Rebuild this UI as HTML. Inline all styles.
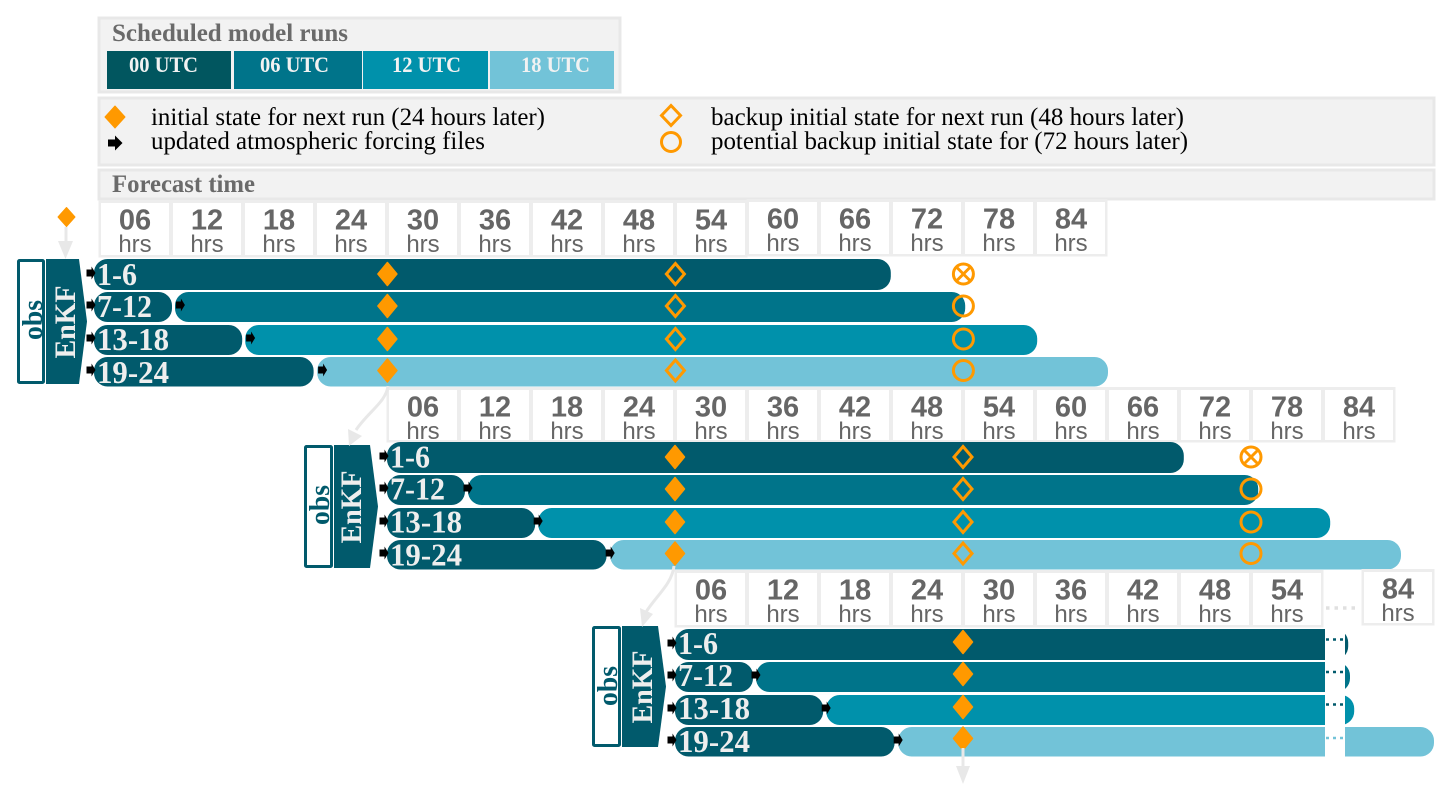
<!DOCTYPE html>
<html lang="en">
<head>
<meta charset="utf-8">
<title>Scheduled model runs</title>
<style>
html,body{margin:0;padding:0;background:#fff;}
svg{display:block;}
.serif{font-family:"Liberation Serif",serif;}
.sans{font-family:"Liberation Sans",sans-serif;}
</style>
</head>
<body>
<svg id="chart" xmlns="http://www.w3.org/2000/svg" width="1452" height="802" viewBox="0 0 1452 802">
  <rect width="1452" height="802" fill="#fff"/>

  <g>
    <rect x="99" y="18" width="521" height="74" fill="#f2f2f2" stroke="#e8e8e8" stroke-width="3"/>
    <text class="serif" x="112" y="41" font-size="25" font-weight="700" fill="#6a6a6a" textLength="236" lengthAdjust="spacingAndGlyphs">Scheduled model runs</text>
    <rect x="107" y="51" width="124" height="38" fill="#01565f"/>
    <rect x="234" y="51" width="128" height="38" fill="#00748a"/>
    <rect x="363" y="51" width="125" height="38" fill="#0091ab"/>
    <rect x="490" y="51" width="124" height="38" fill="#72c3d8"/>
    <g class="serif" font-size="22" font-weight="700" fill="#f2f2f2">
      <text x="129" y="72" textLength="69" lengthAdjust="spacingAndGlyphs">00 UTC</text>
      <text x="260" y="72" textLength="69" lengthAdjust="spacingAndGlyphs">06 UTC</text>
      <text x="392" y="72" textLength="69" lengthAdjust="spacingAndGlyphs">12 UTC</text>
      <text x="521" y="72" textLength="69" lengthAdjust="spacingAndGlyphs">18 UTC</text>
    </g>
  </g>

  <g>
    <rect x="99" y="98" width="1335" height="67" fill="#f2f2f2" stroke="#e8e8e8" stroke-width="3"/>
    <polygon points="115,106 125,117 115,128 105,117" fill="#ff9900" stroke="#ff9900" stroke-linejoin="round"/>
    <polygon points="108,139.5 115,139.5 115,135.5 122.5,143 115,150.5 115,146.5 108,146.5" fill="#000"/>
    <polygon points="671,105.5 680.5,115.5 671,125.5 661.5,115.5" fill="none" stroke="#ff9900" stroke-width="3"/>
    <circle cx="671" cy="142" r="9.5" fill="none" stroke="#ff9900" stroke-width="3"/>
    <g class="serif" font-size="25" fill="#000">
      <text x="151" y="125" textLength="394" lengthAdjust="spacingAndGlyphs">initial state for next run (24 hours later)</text>
      <text x="151" y="149" textLength="334" lengthAdjust="spacingAndGlyphs">updated atmospheric forcing files</text>
      <text x="711" y="125" textLength="473" lengthAdjust="spacingAndGlyphs">backup initial state for next run (48 hours later)</text>
      <text x="711" y="149" textLength="477" lengthAdjust="spacingAndGlyphs">potential backup initial state for (72 hours later)</text>
    </g>
  </g>

  <g>
    <rect x="99" y="170" width="1335" height="29" fill="#f2f2f2" stroke="#e8e8e8" stroke-width="3"/>
    <text class="serif" x="112" y="192" font-size="25" font-weight="700" fill="#6a6a6a" textLength="143" lengthAdjust="spacingAndGlyphs">Forecast time</text>
  </g>

  <g id="cycles"></g>

  <g fill="#e8e8e8" stroke="none">
    <polygon points="66.5,207.5 75,217 66.5,226.5 58,217" fill="#ff9900" stroke="#ff9900" stroke-linejoin="round"/>
    <path d="M66,227 V242" fill="none" stroke="#e8e8e8" stroke-width="3"/>
    <polygon points="58,241 73,241 65.5,259"/>
    <path d="M388,386 C386,402 368,412 356,430" fill="none" stroke="#e8e8e8" stroke-width="3"/>
    <polygon points="348,429 362,436 349,446"/>
    <path d="M674,566 C672,584 656,596 646,612" fill="none" stroke="#e8e8e8" stroke-width="3"/>
    <polygon points="640,608 653,614 642,627"/>
    <path d="M963,748 V768" fill="none" stroke="#e8e8e8" stroke-width="3"/>
    <polygon points="956,766 970,766 963,784"/>
  </g>
</svg>

<script>
const forecastLabels = ['06','12','18','24','30','36','42','48','54','60','66','72','78','84'];
const truncatedLabels = ['06','12','18','24','30','36','42','48','54'];
const lastLabel = '84';
const hourUnit = 'hrs';
const rowLabels = ['1-6','7-12','13-18','19-24'];
const firstSegmentEnd = [66.4, 6.5, 12.35, 18.3];
const secondSegmentStart = [null, 6.75, 12.6, 18.6];
const secondSegmentEnd = [null, 72.6, 78.6, 84.5];
const truncatedFirstSegmentEnd = [56.1, 6.5, 12.35, 18.3];
const truncatedSecondSegmentEnd = [null, 56.25, 56.6, 63.25];
const initialStateHour = 24;
const backupStateHour = 48;
const potentialStateHour = 72;

const NS = 'http://www.w3.org/2000/svg';
const PX_PER_HOUR = 12;
const runColors = ['#015a6c', '#00748a', '#0091ab', '#72c3d8'];
const ORANGE = '#ff9900';
const root = document.getElementById('cycles');

function make(tag, parent, attrs, text) {
  const el = document.createElementNS(NS, tag);
  for (const k in attrs) el.setAttribute(k, attrs[k]);
  if (text !== undefined) el.textContent = text;
  parent.appendChild(el);
  return el;
}

function xAxis(origin) {
  return function (hour) { return origin + hour * PX_PER_HOUR; };
}

function rowTop(layout, i) { return layout.top + [0, 33, 66, 98][i]; }
function rowHeight(i) { return [31, 30, 30, 29.5][i]; }
function markerY(layout, i) { return layout.markerTop + [0, 32, 65, 96.5][i]; }

function drawCell(g, label, cx, top, bottom) {
  const bg = make('rect', g, {x: cx - 36.5, y: top - 3, width: 73, height: bottom - top + 5.5, fill: '#ededed'});
  
  
  const cell = make('rect', g, {x: cx - 34, y: top, width: 68, height: bottom - top, fill: '#fff'});
  
  
  const hour = make('text', g, {x: cx, y: top + 26.5, 'text-anchor': 'middle', 'font-size': 29, 'font-weight': 700, fill: '#666', class: 'sans'}, label);
  
  
  const unit = make('text', g, {x: cx, y: top + 49, 'text-anchor': 'middle', 'font-size': 24, fill: '#666', class: 'sans'}, hourUnit);
  
  
}

function drawBar(g, x0, x1, y, h, fill) {
  const bar = make('rect', g, {x: x0, y: y, width: x1 - x0, height: h, rx: 13.5, ry: 13.5, fill: fill});
  
  
}

function drawForcingArrow(g, cx, cy) {
  const arrow = make('polygon', g, {
    points: [[cx - 4.5, cy - 3.5], [cx + 0.5, cy - 3.5], [cx + 0.5, cy - 6.5], [cx + 4.5, cy], [cx + 0.5, cy + 6.5], [cx + 0.5, cy + 3.5], [cx - 4.5, cy + 3.5]].join(' '),
    fill: '#000'
  });
  
  
}

function drawDiamond(g, cx, cy, filled) {
  const hw = filled ? 9.5 : 9;
  const hh = filled ? 11.5 : 10.5;
  const d = make('polygon', g, {
    points: [[cx, cy - hh], [cx + hw, cy], [cx, cy + hh], [cx - hw, cy]].join(' '),
    fill: filled ? ORANGE : 'none',
    stroke: ORANGE,
    'stroke-width': filled ? 1.5 : 3,
    'stroke-linejoin': filled ? 'round' : 'miter'
  });
  
  
}

function drawCircle(g, cx, cy, crossed) {
  const c = make('circle', g, {cx: cx, cy: cy, r: 10, fill: 'none', stroke: ORANGE, 'stroke-width': 3});
  
  
  if (crossed) {
    const k = 6.5;
    const x = make('path', g, {d: `M${cx - k},${cy - k}L${cx + k},${cy + k}M${cx + k},${cy - k}L${cx - k},${cy + k}`, stroke: ORANGE, 'stroke-width': 3, fill: 'none'});
    
    
  }
}

function drawAssimilation(g, a) {
  const obs = make('rect', g, {x: a.obsX + 1.5, y: a.y0 + 1.5, width: a.obsW - 3, height: a.y1 - a.y0 - 3, fill: '#fff', stroke: runColors[0], 'stroke-width': 3, rx: 1});
  
  
  const cy = (a.y0 + a.y1) / 2;
  const obsText = make('text', g, {transform: `translate(${a.obsBase},${a.obsC}) rotate(-90)`, 'text-anchor': 'middle', 'font-size': 29, 'font-weight': 700, fill: runColors[0], class: 'serif', textLength: 40, lengthAdjust: 'spacingAndGlyphs'}, 'obs');
  
  
  const enkf = make('polygon', g, {points: [[a.kfX, a.y0], [a.kfX1, a.y0], [a.kfTip, cy], [a.kfX1, a.y1], [a.kfX, a.y1]].join(' '), fill: runColors[0]});
  
  
  const enkfText = make('text', g, {transform: `translate(${a.kfBase},${a.kfC}) rotate(-90)`, 'text-anchor': 'middle', 'font-size': 30, 'font-weight': 700, fill: '#eee', class: 'serif', textLength: 73, lengthAdjust: 'spacingAndGlyphs'}, 'EnKF');
  
  
}

const cycleLayouts = [
  {bars: 94, marks: 99.4, top: 259, markerTop: 274, labelLift: 0, cellTop: 203, cellBottom: 255, cellCenter: 135, full: true, hollow: true,
   assim: {obsX: 17, obsW: 28, y0: 259, y1: 384, kfX: 46, kfX1: 79, kfTip: 87, obsBase: 42, obsC: 320, kfBase: 75, kfC: 322}},
  {bars: 387, marks: 387, top: 442, markerTop: 457, labelLift: 0.5, cellTop: 390, cellBottom: 440, cellCenter: 423, full: true, hollow: true,
   assim: {obsX: 304, obsW: 29, y0: 445, y1: 568, kfX: 334, kfX1: 370, kfTip: 378, obsBase: 329, obsC: 505, kfBase: 361, kfC: 507}},
  {bars: 675, marks: 675, top: 629, markerTop: 642, labelLift: 1, cellTop: 573, cellBottom: 625, cellCenter: 711, full: false, hollow: false,
   assim: {obsX: 592, obsW: 29, y0: 626, y1: 747, kfX: 622, kfX1: 658, kfTip: 666, obsBase: 617, obsC: 686, kfBase: 652, kfC: 687}}
];

cycleLayouts.forEach(function (layout) {
  const g = make('g', root, {});
  
  
  const labels = layout.full ? forecastLabels : truncatedLabels;
  labels.forEach(function (label, i) {
    drawCell(g, label, layout.cellCenter + 72 * i, layout.cellTop - (layout.bars === 94 && i > 8 ? 1 : 0), layout.cellBottom - (layout.bars === 94 && i > 8 ? 1 : 0));
  });
  if (!layout.full) {
    drawCell(g, lastLabel, 1398, 572, 623);
  }

  drawAssimilation(g, layout.assim);

  const xBar = xAxis(layout.bars);
  const xMark = xAxis(layout.marks);
  const firstEnds = layout.full ? firstSegmentEnd : truncatedFirstSegmentEnd;
  const secondEnds = layout.full ? secondSegmentEnd : truncatedSecondSegmentEnd;

  rowLabels.forEach(function (label, i) {
    const y = rowTop(layout, i);
    const h = rowHeight(i);
    if (secondSegmentStart[i] !== null) {
      drawBar(g, xBar(secondSegmentStart[i]), xBar(secondEnds[i]), y, h, runColors[i]);
    }
    drawBar(g, xBar(0), xBar(firstEnds[i]), y, h, runColors[0]);
    const t = make('text', g, {x: xBar(0) + 3, y: y + [26, 25, 25, 26][i] - layout.labelLift, 'font-size': 32, 'font-weight': 700, fill: '#eee', class: 'serif', textLength: [40, 55, 72, 72][i], lengthAdjust: 'spacingAndGlyphs'}, label);
    
    
  });

  if (!layout.full) {
    const mask = make('rect', g, {x: 1325, y: 570, width: 20, height: 195, fill: '#fff'});
    
    
    const headerDots = make('line', g, {x1: 1326, x2: 1360, y1: 608, y2: 608, stroke: '#e0e0e0', 'stroke-width': 3.5, 'stroke-dasharray': '3.5 5'});
    
    
    rowLabels.forEach(function (label, i) {
      const dotY = [639.5, 672, 704.5, 738][i];
      const dots = make('line', g, {x1: 1326, x2: 1345, y1: dotY, y2: dotY, stroke: i === 3 ? runColors[3] : runColors[0], 'stroke-width': 2.5, 'stroke-dasharray': '3 4'});
      
      
    });
  }

  rowLabels.forEach(function (label, i) {
    const cy = markerY(layout, i);
    drawForcingArrow(g, xBar(0) - 3, rowTop(layout, i) + [14, 13, 13, 13][i]);
    if (secondSegmentStart[i] !== null) {
      drawForcingArrow(g, xMark(secondSegmentStart[i]), rowTop(layout, i) + 13);
    }
    drawDiamond(g, xMark(initialStateHour), cy, true);
    if (layout.hollow) {
      drawDiamond(g, xMark(backupStateHour), cy, false);
      drawCircle(g, xMark(potentialStateHour), cy, i === 0);
    }
  });
});
</script>
</body>
</html>
